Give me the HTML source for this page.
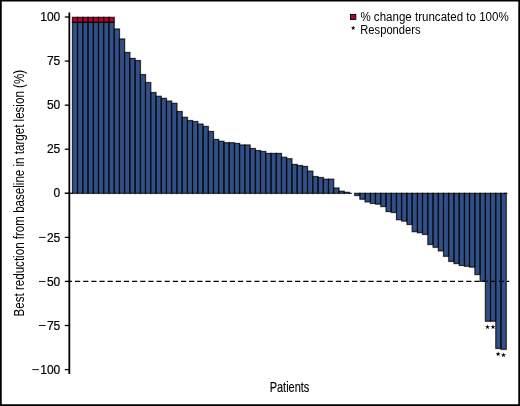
<!DOCTYPE html>
<html><head><meta charset="utf-8"><title>Waterfall</title>
<style>
html,body{margin:0;padding:0;background:#fff;}
body{width:520px;height:406px;overflow:hidden;font-family:"Liberation Sans",sans-serif;}
svg{display:block;}
text{font-family:"Liberation Sans",sans-serif;fill:#000;}
</style></head><body>
<svg width="520" height="406" viewBox="0 0 520 406">
<rect x="0" y="0" width="520" height="406" fill="#fff"/>
<g fill="#315088" stroke="#000" stroke-width="1.7" stroke-opacity="0.28">
<rect x="72.40" y="22.20" width="5.23" height="171.10"/>
<rect x="77.63" y="22.20" width="5.23" height="171.10"/>
<rect x="82.85" y="22.20" width="5.23" height="171.10"/>
<rect x="88.08" y="22.20" width="5.23" height="171.10"/>
<rect x="93.31" y="22.20" width="5.23" height="171.10"/>
<rect x="98.54" y="22.20" width="5.23" height="171.10"/>
<rect x="103.76" y="22.20" width="5.23" height="171.10"/>
<rect x="108.99" y="22.20" width="5.23" height="171.10"/>
<rect x="114.22" y="29.00" width="5.23" height="164.30"/>
<rect x="119.44" y="39.00" width="5.23" height="154.30"/>
<rect x="124.67" y="52.40" width="5.23" height="140.90"/>
<rect x="129.90" y="58.40" width="5.23" height="134.90"/>
<rect x="135.13" y="60.50" width="5.23" height="132.80"/>
<rect x="140.35" y="74.60" width="5.23" height="118.70"/>
<rect x="145.58" y="82.60" width="5.23" height="110.70"/>
<rect x="150.81" y="92.60" width="5.23" height="100.70"/>
<rect x="156.03" y="96.25" width="5.23" height="97.05"/>
<rect x="161.26" y="98.30" width="5.23" height="95.00"/>
<rect x="166.49" y="101.10" width="5.23" height="92.20"/>
<rect x="171.72" y="103.30" width="5.23" height="90.00"/>
<rect x="176.94" y="111.50" width="5.23" height="81.80"/>
<rect x="182.17" y="117.25" width="5.23" height="76.05"/>
<rect x="187.40" y="120.60" width="5.23" height="72.70"/>
<rect x="192.62" y="121.60" width="5.23" height="71.70"/>
<rect x="197.85" y="124.10" width="5.23" height="69.20"/>
<rect x="203.08" y="126.40" width="5.23" height="66.90"/>
<rect x="208.30" y="131.40" width="5.23" height="61.90"/>
<rect x="213.53" y="139.40" width="5.23" height="53.90"/>
<rect x="218.76" y="141.25" width="5.23" height="52.05"/>
<rect x="223.99" y="142.75" width="5.23" height="50.55"/>
<rect x="229.21" y="142.75" width="5.23" height="50.55"/>
<rect x="234.44" y="143.40" width="5.23" height="49.90"/>
<rect x="239.67" y="145.00" width="5.23" height="48.30"/>
<rect x="244.89" y="145.00" width="5.23" height="48.30"/>
<rect x="250.12" y="148.50" width="5.23" height="44.80"/>
<rect x="255.35" y="150.60" width="5.23" height="42.70"/>
<rect x="260.58" y="151.40" width="5.23" height="41.90"/>
<rect x="265.80" y="153.40" width="5.23" height="39.90"/>
<rect x="271.03" y="153.40" width="5.23" height="39.90"/>
<rect x="276.26" y="153.40" width="5.23" height="39.90"/>
<rect x="281.48" y="157.25" width="5.23" height="36.05"/>
<rect x="286.71" y="158.75" width="5.23" height="34.55"/>
<rect x="291.94" y="164.40" width="5.23" height="28.90"/>
<rect x="297.17" y="165.60" width="5.23" height="27.70"/>
<rect x="302.39" y="166.40" width="5.23" height="26.90"/>
<rect x="307.62" y="171.10" width="5.23" height="22.20"/>
<rect x="312.85" y="176.60" width="5.23" height="16.70"/>
<rect x="318.07" y="177.50" width="5.23" height="15.80"/>
<rect x="323.30" y="179.20" width="5.23" height="14.10"/>
<rect x="328.53" y="179.20" width="5.23" height="14.10"/>
<rect x="333.76" y="188.00" width="5.23" height="5.30"/>
<rect x="338.98" y="191.20" width="5.23" height="2.10"/>
<rect x="344.21" y="192.30" width="5.23" height="1.00"/>
<rect x="354.66" y="193.30" width="5.23" height="2.20"/>
<rect x="359.89" y="193.30" width="5.23" height="5.90"/>
<rect x="365.12" y="193.30" width="5.23" height="8.60"/>
<rect x="370.35" y="193.30" width="5.23" height="10.10"/>
<rect x="375.57" y="193.30" width="5.23" height="10.80"/>
<rect x="380.80" y="193.30" width="5.23" height="13.30"/>
<rect x="386.03" y="193.30" width="5.23" height="18.30"/>
<rect x="391.25" y="193.30" width="5.23" height="19.20"/>
<rect x="396.48" y="193.30" width="5.23" height="26.45"/>
<rect x="401.71" y="193.30" width="5.23" height="27.80"/>
<rect x="406.93" y="193.30" width="5.23" height="31.20"/>
<rect x="412.16" y="193.30" width="5.23" height="38.40"/>
<rect x="417.39" y="193.30" width="5.23" height="39.45"/>
<rect x="422.62" y="193.30" width="5.23" height="41.10"/>
<rect x="427.84" y="193.30" width="5.23" height="51.30"/>
<rect x="433.07" y="193.30" width="5.23" height="53.95"/>
<rect x="438.30" y="193.30" width="5.23" height="57.60"/>
<rect x="443.52" y="193.30" width="5.23" height="62.95"/>
<rect x="448.75" y="193.30" width="5.23" height="68.10"/>
<rect x="453.98" y="193.30" width="5.23" height="70.30"/>
<rect x="459.21" y="193.30" width="5.23" height="72.10"/>
<rect x="464.43" y="193.30" width="5.23" height="72.95"/>
<rect x="469.66" y="193.30" width="5.23" height="73.80"/>
<rect x="474.89" y="193.30" width="5.23" height="81.30"/>
<rect x="480.11" y="193.30" width="5.23" height="87.95"/>
<rect x="485.34" y="193.30" width="5.23" height="127.90"/>
<rect x="490.57" y="193.30" width="5.23" height="127.90"/>
<rect x="495.80" y="193.30" width="5.23" height="155.15"/>
<rect x="501.02" y="193.30" width="5.23" height="156.00"/>
</g>
<g fill="#BC002E" stroke="#000" stroke-width="1.7" stroke-opacity="0.28">
<rect x="72.40" y="17.30" width="5.23" height="4.90"/>
<rect x="77.63" y="17.30" width="5.23" height="4.90"/>
<rect x="82.85" y="17.30" width="5.23" height="4.90"/>
<rect x="88.08" y="17.30" width="5.23" height="4.90"/>
<rect x="93.31" y="17.30" width="5.23" height="4.90"/>
<rect x="98.54" y="17.30" width="5.23" height="4.90"/>
<rect x="103.76" y="17.30" width="5.23" height="4.90"/>
<rect x="108.99" y="17.30" width="5.23" height="4.90"/>
</g>
<g fill="none" stroke="#000" stroke-width="0.75" stroke-opacity="0.85">
<rect x="72.40" y="22.20" width="5.23" height="171.10"/>
<rect x="77.63" y="22.20" width="5.23" height="171.10"/>
<rect x="82.85" y="22.20" width="5.23" height="171.10"/>
<rect x="88.08" y="22.20" width="5.23" height="171.10"/>
<rect x="93.31" y="22.20" width="5.23" height="171.10"/>
<rect x="98.54" y="22.20" width="5.23" height="171.10"/>
<rect x="103.76" y="22.20" width="5.23" height="171.10"/>
<rect x="108.99" y="22.20" width="5.23" height="171.10"/>
<rect x="114.22" y="29.00" width="5.23" height="164.30"/>
<rect x="119.44" y="39.00" width="5.23" height="154.30"/>
<rect x="124.67" y="52.40" width="5.23" height="140.90"/>
<rect x="129.90" y="58.40" width="5.23" height="134.90"/>
<rect x="135.13" y="60.50" width="5.23" height="132.80"/>
<rect x="140.35" y="74.60" width="5.23" height="118.70"/>
<rect x="145.58" y="82.60" width="5.23" height="110.70"/>
<rect x="150.81" y="92.60" width="5.23" height="100.70"/>
<rect x="156.03" y="96.25" width="5.23" height="97.05"/>
<rect x="161.26" y="98.30" width="5.23" height="95.00"/>
<rect x="166.49" y="101.10" width="5.23" height="92.20"/>
<rect x="171.72" y="103.30" width="5.23" height="90.00"/>
<rect x="176.94" y="111.50" width="5.23" height="81.80"/>
<rect x="182.17" y="117.25" width="5.23" height="76.05"/>
<rect x="187.40" y="120.60" width="5.23" height="72.70"/>
<rect x="192.62" y="121.60" width="5.23" height="71.70"/>
<rect x="197.85" y="124.10" width="5.23" height="69.20"/>
<rect x="203.08" y="126.40" width="5.23" height="66.90"/>
<rect x="208.30" y="131.40" width="5.23" height="61.90"/>
<rect x="213.53" y="139.40" width="5.23" height="53.90"/>
<rect x="218.76" y="141.25" width="5.23" height="52.05"/>
<rect x="223.99" y="142.75" width="5.23" height="50.55"/>
<rect x="229.21" y="142.75" width="5.23" height="50.55"/>
<rect x="234.44" y="143.40" width="5.23" height="49.90"/>
<rect x="239.67" y="145.00" width="5.23" height="48.30"/>
<rect x="244.89" y="145.00" width="5.23" height="48.30"/>
<rect x="250.12" y="148.50" width="5.23" height="44.80"/>
<rect x="255.35" y="150.60" width="5.23" height="42.70"/>
<rect x="260.58" y="151.40" width="5.23" height="41.90"/>
<rect x="265.80" y="153.40" width="5.23" height="39.90"/>
<rect x="271.03" y="153.40" width="5.23" height="39.90"/>
<rect x="276.26" y="153.40" width="5.23" height="39.90"/>
<rect x="281.48" y="157.25" width="5.23" height="36.05"/>
<rect x="286.71" y="158.75" width="5.23" height="34.55"/>
<rect x="291.94" y="164.40" width="5.23" height="28.90"/>
<rect x="297.17" y="165.60" width="5.23" height="27.70"/>
<rect x="302.39" y="166.40" width="5.23" height="26.90"/>
<rect x="307.62" y="171.10" width="5.23" height="22.20"/>
<rect x="312.85" y="176.60" width="5.23" height="16.70"/>
<rect x="318.07" y="177.50" width="5.23" height="15.80"/>
<rect x="323.30" y="179.20" width="5.23" height="14.10"/>
<rect x="328.53" y="179.20" width="5.23" height="14.10"/>
<rect x="333.76" y="188.00" width="5.23" height="5.30"/>
<rect x="338.98" y="191.20" width="5.23" height="2.10"/>
<rect x="344.21" y="192.30" width="5.23" height="1.00"/>
<rect x="354.66" y="193.30" width="5.23" height="2.20"/>
<rect x="359.89" y="193.30" width="5.23" height="5.90"/>
<rect x="365.12" y="193.30" width="5.23" height="8.60"/>
<rect x="370.35" y="193.30" width="5.23" height="10.10"/>
<rect x="375.57" y="193.30" width="5.23" height="10.80"/>
<rect x="380.80" y="193.30" width="5.23" height="13.30"/>
<rect x="386.03" y="193.30" width="5.23" height="18.30"/>
<rect x="391.25" y="193.30" width="5.23" height="19.20"/>
<rect x="396.48" y="193.30" width="5.23" height="26.45"/>
<rect x="401.71" y="193.30" width="5.23" height="27.80"/>
<rect x="406.93" y="193.30" width="5.23" height="31.20"/>
<rect x="412.16" y="193.30" width="5.23" height="38.40"/>
<rect x="417.39" y="193.30" width="5.23" height="39.45"/>
<rect x="422.62" y="193.30" width="5.23" height="41.10"/>
<rect x="427.84" y="193.30" width="5.23" height="51.30"/>
<rect x="433.07" y="193.30" width="5.23" height="53.95"/>
<rect x="438.30" y="193.30" width="5.23" height="57.60"/>
<rect x="443.52" y="193.30" width="5.23" height="62.95"/>
<rect x="448.75" y="193.30" width="5.23" height="68.10"/>
<rect x="453.98" y="193.30" width="5.23" height="70.30"/>
<rect x="459.21" y="193.30" width="5.23" height="72.10"/>
<rect x="464.43" y="193.30" width="5.23" height="72.95"/>
<rect x="469.66" y="193.30" width="5.23" height="73.80"/>
<rect x="474.89" y="193.30" width="5.23" height="81.30"/>
<rect x="480.11" y="193.30" width="5.23" height="87.95"/>
<rect x="485.34" y="193.30" width="5.23" height="127.90"/>
<rect x="490.57" y="193.30" width="5.23" height="127.90"/>
<rect x="495.80" y="193.30" width="5.23" height="155.15"/>
<rect x="501.02" y="193.30" width="5.23" height="156.00"/>
<rect x="72.40" y="17.30" width="5.23" height="4.90"/>
<rect x="77.63" y="17.30" width="5.23" height="4.90"/>
<rect x="82.85" y="17.30" width="5.23" height="4.90"/>
<rect x="88.08" y="17.30" width="5.23" height="4.90"/>
<rect x="93.31" y="17.30" width="5.23" height="4.90"/>
<rect x="98.54" y="17.30" width="5.23" height="4.90"/>
<rect x="103.76" y="17.30" width="5.23" height="4.90"/>
<rect x="108.99" y="17.30" width="5.23" height="4.90"/>
</g>
<line x1="349" y1="193.3" x2="351.9" y2="193.3" stroke="#000" stroke-width="1"/>
<line x1="504" y1="193.3" x2="507.4" y2="193.3" stroke="#000" stroke-width="0.9"/>
<line x1="66.85" y1="281.45" x2="509.3" y2="281.45" stroke="#000" stroke-width="1.25" stroke-dasharray="5.2 2.95"/>
<line x1="69.33" y1="12.4" x2="69.33" y2="374" stroke="#000" stroke-width="1.8"/>
<g stroke="#000" stroke-width="1.3">
<line x1="64.8" y1="17.0" x2="69" y2="17.0"/>
<line x1="64.8" y1="61.1" x2="69" y2="61.1"/>
<line x1="64.8" y1="105.15" x2="69" y2="105.15"/>
<line x1="64.8" y1="149.2" x2="69" y2="149.2"/>
<line x1="64.8" y1="193.3" x2="69" y2="193.3"/>
<line x1="64.8" y1="237.4" x2="69" y2="237.4"/>
<line x1="64.8" y1="281.45" x2="69" y2="281.45"/>
<line x1="64.8" y1="325.5" x2="69" y2="325.5"/>
<line x1="64.8" y1="369.6" x2="69" y2="369.6"/>
</g>
<line x1="64.8" y1="193.3" x2="73" y2="193.3" stroke="#000" stroke-width="1.2"/>
<g style="will-change:opacity">
<g font-size="12" stroke="#000" stroke-width="0.2">
<text x="60.3" y="21.15" text-anchor="end">100</text>
<text x="60.3" y="65.25" text-anchor="end">75</text>
<text x="60.3" y="109.30" text-anchor="end">50</text>
<text x="60.3" y="153.35" text-anchor="end">25</text>
<text x="60.3" y="197.45" text-anchor="end">0</text>
<text x="60.3" y="241.55" text-anchor="end">25</text>
<line x1="38.90" y1="237.40" x2="45.55" y2="237.40" stroke="#000" stroke-width="0.9"/>
<text x="60.3" y="285.60" text-anchor="end">50</text>
<line x1="38.90" y1="281.45" x2="45.55" y2="281.45" stroke="#000" stroke-width="0.9"/>
<text x="60.3" y="329.65" text-anchor="end">75</text>
<line x1="38.90" y1="325.50" x2="45.55" y2="325.50" stroke="#000" stroke-width="0.9"/>
<text x="60.3" y="373.75" text-anchor="end">100</text>
<line x1="32.23" y1="369.60" x2="38.88" y2="369.60" stroke="#000" stroke-width="0.9"/>
</g>
<text x="360.4" y="20.6" font-size="12" textLength="148.3" lengthAdjust="spacingAndGlyphs">% change truncated to 100%</text>
<text x="360.3" y="33.55" font-size="12" textLength="60.3" lengthAdjust="spacingAndGlyphs">Responders</text>
<text x="289.5" y="391.5" font-size="14.6" text-anchor="middle" textLength="39.6" stroke="#000" stroke-width="0.15" lengthAdjust="spacingAndGlyphs">Patients</text>
<text transform="translate(23.8,193.2) rotate(-90)" font-size="15" text-anchor="middle" textLength="246.5" lengthAdjust="spacingAndGlyphs">Best reduction from baseline in target lesion (%)</text>
</g>
<g fill="#000">
<polygon points="487.50,324.40 488.09,326.19 489.97,326.20 488.45,327.31 489.03,329.10 487.50,328.00 485.97,329.10 486.55,327.31 485.03,326.20 486.91,326.19"/>
<polygon points="493.00,324.40 493.59,326.19 495.47,326.20 493.95,327.31 494.53,329.10 493.00,328.00 491.47,329.10 492.05,327.31 490.53,326.20 492.41,326.19"/>
<polygon points="498.10,351.50 498.69,353.29 500.57,353.30 499.05,354.41 499.63,356.20 498.10,355.10 496.57,356.20 497.15,354.41 495.63,353.30 497.51,353.29"/>
<polygon points="503.50,352.50 504.09,354.29 505.97,354.30 504.45,355.41 505.03,357.20 503.50,356.10 501.97,357.20 502.55,355.41 501.03,354.30 502.91,354.29"/>
<polygon points="353.20,25.60 353.76,27.23 355.48,27.26 354.10,28.29 354.61,29.94 353.20,28.95 351.79,29.94 352.30,28.29 350.92,27.26 352.64,27.23"/>
</g>
<rect x="350.5" y="14.4" width="5.3" height="5.1" fill="#BC002E" stroke="#000" stroke-width="0.9"/>
<path d="M0 0H520V406H0Z M1.75 1.6V404.15H518.3V1.6Z" fill="#000" fill-rule="evenodd"/>
</svg>
</body></html>
